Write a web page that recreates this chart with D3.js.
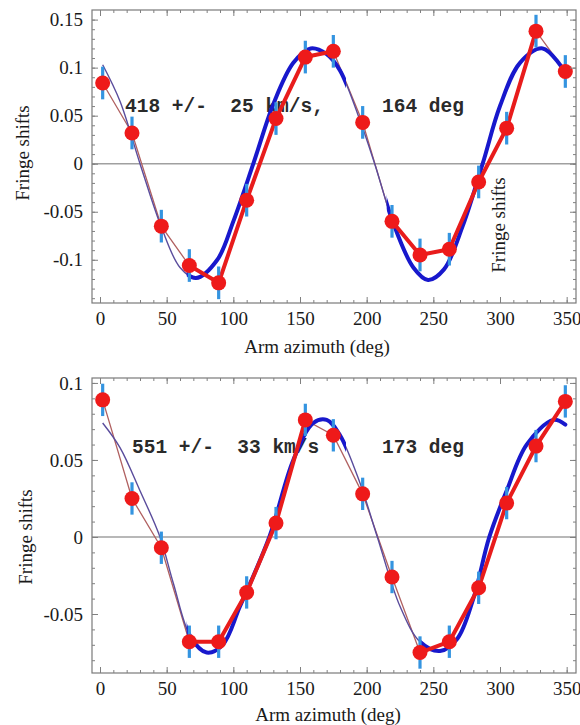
<!DOCTYPE html>
<html>
<head>
<meta charset="utf-8">
<script src="https://cdn.jsdelivr.net/npm/d3@7"></script>
<style>
  body { margin: 0; background: #fff; }
  svg { display: block; }
  .axis text { font-family: "Liberation Serif", "Times New Roman", serif; font-size: 19px; fill: #1a1a1a; }
  .axis line { stroke: #808080; }
  .lab { font-family: "Liberation Serif", "Times New Roman", serif; font-size: 19px; fill: #1a1a1a; }
  .note { font-family: "Liberation Mono", "Courier New", monospace; font-size: 19.5px; font-weight: bold; fill: #2a2a2a; white-space: pre; }
</style>
</head>
<body>
<svg id="chart" width="580" height="725"></svg>
<script>
// arm azimuth of each reading, deg
var azimuths = [2, 24, 46, 67, 89, 110, 132, 154, 175, 197, 219, 240, 262, 284, 305, 327, 349];

// fringe shifts, upper plot
var shiftsTop = [0.084, 0.032, -0.065, -0.106, -0.124, -0.038, 0.047, 0.111, 0.117, 0.043,
                 -0.060, -0.095, -0.089, -0.019, 0.037, 0.138, 0.096];
var errTop = 0.017;
// fitted curve, upper plot
var fitAzTop = [2, 15, 30, 46, 60, 72, 88, 100, 115, 130, 145, 158, 170, 180, 195, 206,
                220, 235, 246, 258, 272, 287, 300, 315, 332, 349];
var fitTop = [0.103, 0.065, 0.0, -0.066, -0.108, -0.119, -0.100, -0.060, 0.0, 0.062, 0.105, 0.120,
              0.114, 0.097, 0.045, 0.0, -0.062, -0.108, -0.121, -0.110, -0.065, 0.0, 0.060, 0.105, 0.120, 0.095];

// fringe shifts, lower plot
var shiftsBottom = [0.089, 0.025, -0.007, -0.068, -0.068, -0.036, 0.009, 0.076, 0.066, 0.028,
                    -0.026, -0.075, -0.068, -0.033, 0.022, 0.059, 0.088];
var errBottom = 0.0105;
var fitAzBottom = [2, 15, 30, 45, 55, 68, 80, 92, 105, 127, 145, 160, 170, 180, 195, 208,
                   225, 240, 255, 268, 280, 292, 305, 320, 340, 349];
var fitBottom = [0.074, 0.058, 0.030, 0.0, -0.030, -0.065, -0.075, -0.070, -0.045, 0.0, 0.050, 0.074,
                 0.076, 0.066, 0.035, 0.0, -0.045, -0.068, -0.074, -0.066, -0.040, 0.0, 0.030, 0.060, 0.076, 0.073];

// which stretches are drawn heavy
var heavyRedTop = [[3, 8], [10, 15]];       // point index ranges
var heavyBlueTop = [[65, 180], [215, 349]]; // azimuth ranges
var heavyRedBottom = [[3, 7], [11, 16]];
var heavyBlueBottom = [[65, 180], [240, 349]];

var xTicks = [0, 50, 100, 150, 200, 250, 300, 350];
var yTicksTop = [-0.1, -0.05, 0, 0.05, 0.1, 0.15];
var yTicksBottom = [-0.05, 0, 0.05, 0.1];

var svg = d3.select("#chart");
var fmt = function (d) { return d === 0 ? "0" : String(+d.toFixed(2)); };

function panel(o) {
    var x = d3.scaleLinear().domain([-6, 357]).range([o.left, o.right]);
    var y = d3.scaleLinear().domain(o.yDomain).range([o.bottom, o.top]);
    var g = svg.append("g");
    var id = o.id;

    g.append("line")
        .attr("x1", o.left).attr("x2", o.right)
        .attr("y1", y(0)).attr("y2", y(0))
        .attr("stroke", "#a0a0a0").attr("stroke-width", 1.5);

    // annotation
    g.append("text").attr("class", "note").attr("xml:space", "preserve")
        .attr("x", o.noteX[0]).attr("y", o.noteY).text(o.note[0]);
    g.append("text").attr("class", "note").attr("xml:space", "preserve")
        .attr("x", o.noteX[1]).attr("y", o.noteY).text(o.note[1]);

    var pts = azimuths.map(function (a, i) { return { a: a, v: o.shifts[i] }; });
    var fit = o.fitAz.map(function (a, i) { return { a: a, v: o.fit[i] }; });

    var lineStraight = d3.line().x(function (d) { return x(d.a); }).y(function (d) { return y(d.v); });
    var lineSmooth = d3.line().curve(d3.curveCatmullRom.alpha(0.5))
        .x(function (d) { return x(d.a); }).y(function (d) { return y(d.v); });

    // clip for heavy blue stretches
    var clip = g.append("clipPath").attr("id", "clip" + id);
    o.heavyBlue.forEach(function (r) {
        clip.append("rect").attr("x", x(r[0])).attr("width", x(r[1]) - x(r[0]) + 6)
            .attr("y", o.top - 20).attr("height", o.bottom - o.top + 40);
    });

    // thin traces
    g.append("path").datum(pts).attr("d", lineStraight)
        .attr("fill", "none").attr("stroke", "#b06060").attr("stroke-width", 1.3);
    g.append("path").datum(fit).attr("d", lineSmooth)
        .attr("fill", "none").attr("stroke", "#5a4c9c").attr("stroke-width", 1.4);

    // heavy fit
    g.append("path").datum(fit).attr("d", lineSmooth)
        .attr("clip-path", "url(#clip" + id + ")")
        .attr("fill", "none").attr("stroke", "#1818cc").attr("stroke-width", 4)
        .attr("stroke-linecap", "round");

    // heavy data line
    o.heavyRed.forEach(function (r) {
        g.append("path").datum(pts.slice(r[0], r[1] + 1)).attr("d", lineStraight)
            .attr("fill", "none").attr("stroke", "#e81c1c").attr("stroke-width", 4)
            .attr("stroke-linejoin", "round");
    });

    // error bars
    g.selectAll(".err").data(pts).enter().append("line")
        .attr("x1", function (d) { return x(d.a); }).attr("x2", function (d) { return x(d.a); })
        .attr("y1", function (d) { return y(d.v - o.err); })
        .attr("y2", function (d) { return y(d.v + o.err); })
        .attr("stroke", "#3494e0").attr("stroke-width", 3.2);

    g.selectAll(".dot").data(pts).enter().append("circle")
        .attr("cx", function (d) { return x(d.a); })
        .attr("cy", function (d) { return y(d.v); })
        .attr("r", 7.5).attr("fill", "#ee1a1a");

    // frame and ticks
    g.append("rect").attr("x", o.left).attr("y", o.top)
        .attr("width", o.right - o.left).attr("height", o.bottom - o.top)
        .attr("fill", "none").attr("stroke", "#7a7a7a").attr("stroke-width", 1.2);

    var xMinor = d3.range(0, 360, 10);
    var yMinor = d3.range(-20, 20).map(function (d) { return d / 100; })
        .filter(function (d) { return d > o.yDomain[0] && d < o.yDomain[1]; });

    function ax(axis, tr, labels) {
        var s = g.append("g").attr("class", "axis").attr("transform", tr).call(axis);
        s.select(".domain").remove();
        if (!labels) s.selectAll("text").remove();
        return s;
    }
    ax(d3.axisBottom(x).tickValues(xTicks).tickSize(-6).tickPadding(9).tickFormat(d3.format("d")),
        "translate(0," + o.bottom + ")", true);
    ax(d3.axisBottom(x).tickValues(xMinor).tickSize(-3), "translate(0," + o.bottom + ")");
    ax(d3.axisTop(x).tickValues(xTicks).tickSize(-6), "translate(0," + o.top + ")");
    ax(d3.axisTop(x).tickValues(xMinor).tickSize(-3), "translate(0," + o.top + ")");
    ax(d3.axisLeft(y).tickValues(o.yTicks).tickSize(-6).tickPadding(9).tickFormat(fmt),
        "translate(" + o.left + ",0)", true);
    ax(d3.axisLeft(y).tickValues(yMinor).tickSize(-3), "translate(" + o.left + ",0)");
    ax(d3.axisRight(y).tickValues(o.yTicks).tickSize(-6), "translate(" + o.right + ",0)");
    ax(d3.axisRight(y).tickValues(yMinor).tickSize(-3), "translate(" + o.right + ",0)");

    // axis titles
    g.append("text").attr("class", "lab").attr("text-anchor", "middle")
        .attr("x", o.xTitle[0]).attr("y", o.xTitle[1]).text("Arm azimuth (deg)");
    o.yTitles.forEach(function (p) {
        g.append("text").attr("class", "lab").attr("text-anchor", "middle")
            .attr("transform", "translate(" + p[0] + "," + p[1] + ") rotate(-90)")
            .text("Fringe shifts");
    });
}

panel({
    id: "a", left: 92, right: 576, top: 10, bottom: 303,
    yDomain: [-0.145, 0.160], yTicks: yTicksTop,
    shifts: shiftsTop, err: errTop, fitAz: fitAzTop, fit: fitTop,
    heavyRed: heavyRedTop, heavyBlue: heavyBlueTop,
    note: ["418 +/-  25 km/s,", "164 deg"], noteX: [125, 382], noteY: 112,
    xTitle: [317, 353], yTitles: [[29, 153], [505, 225]]
});

panel({
    id: "b", left: 92, right: 576, top: 378, bottom: 673,
    yDomain: [-0.0883, 0.1032], yTicks: yTicksBottom,
    shifts: shiftsBottom, err: errBottom, fitAz: fitAzBottom, fit: fitBottom,
    heavyRed: heavyRedBottom, heavyBlue: heavyBlueBottom,
    note: ["551 +/-  33 km/s", "173 deg"], noteX: [132, 382], noteY: 453,
    xTitle: [328, 721], yTitles: [[32, 537]]
});
</script>
</body>
</html>
